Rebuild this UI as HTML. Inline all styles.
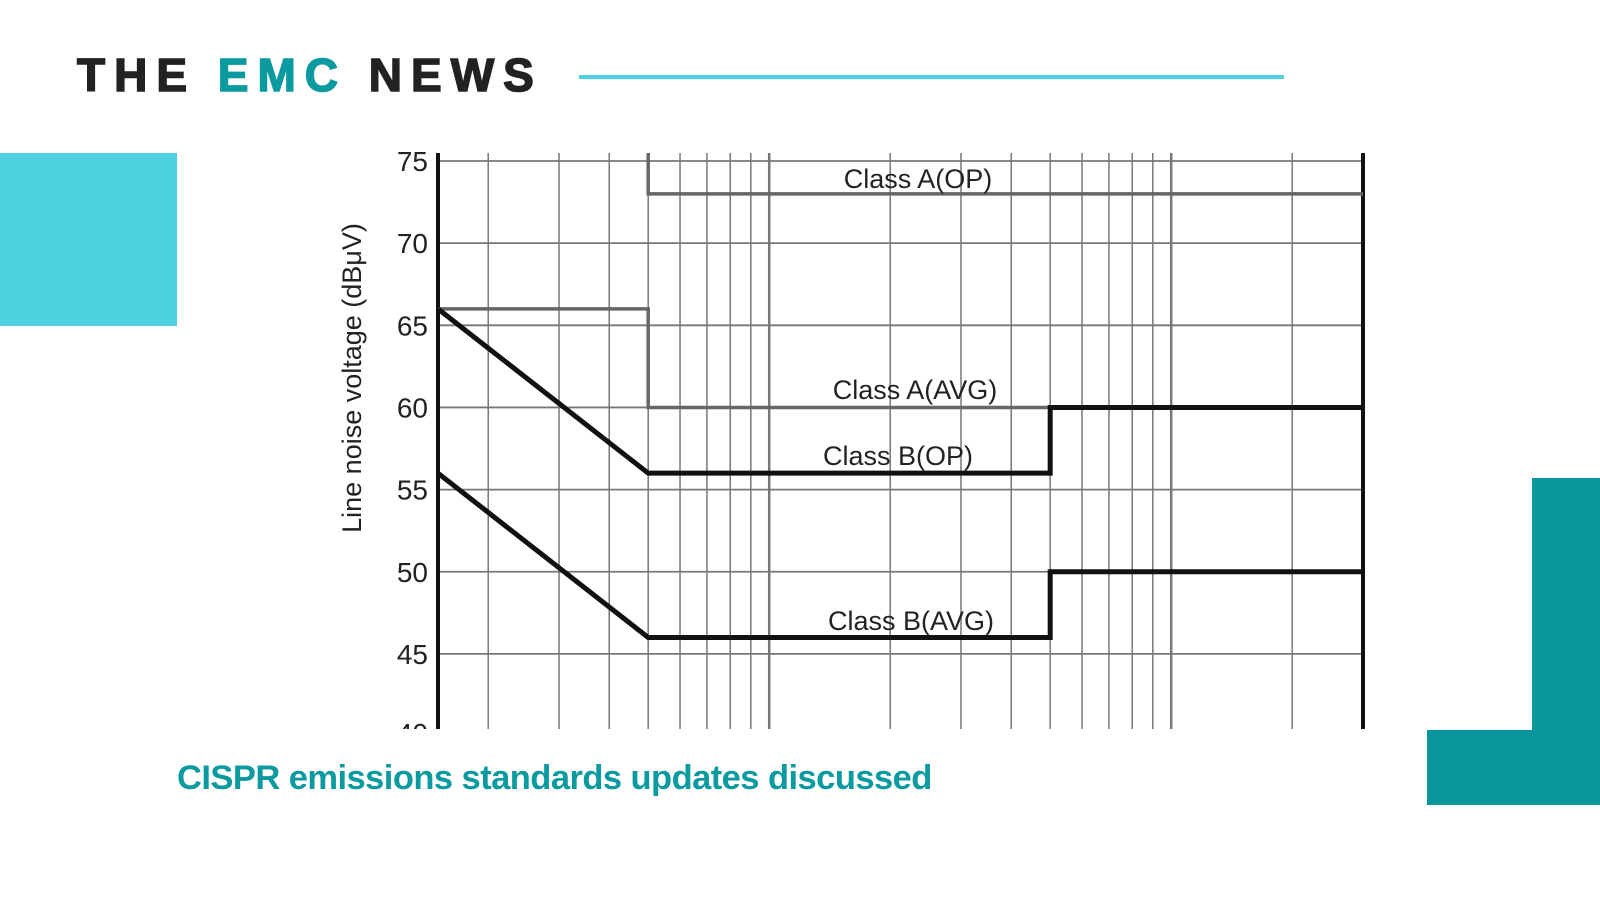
<!DOCTYPE html>
<html><head><meta charset="utf-8"><style>
html,body{margin:0;padding:0;background:#fff;}
body{width:1600px;height:900px;position:relative;overflow:hidden;font-family:"Liberation Sans",sans-serif;}
.hdr{position:absolute;left:77px;top:48px;font-size:46px;font-weight:bold;letter-spacing:9px;color:#222;white-space:nowrap;-webkit-text-stroke:1.5px #222;}
.hdr span{color:#0b9aa0;-webkit-text-stroke:1.5px #0b9aa0;}
.line{position:absolute;left:579px;top:75px;width:705px;height:4px;background:#4fd0df;}
.cyan{position:absolute;left:0;top:153px;width:177px;height:173px;background:#4dd0e0;}
.t1{position:absolute;left:1532px;top:478px;width:68px;height:327px;background:#08959b;}
.t2{position:absolute;left:1427px;top:730px;width:173px;height:75px;background:#08959b;}
.cap{position:absolute;left:177px;top:759px;font-size:34.5px;font-weight:bold;color:#0b9aa0;white-space:nowrap;letter-spacing:-0.55px;}
svg{position:absolute;left:0;top:0;}
</style></head><body>
<div class="hdr">THE <span>EMC</span> NEWS</div>
<div class="line"></div>
<div class="cyan"></div>
<div class="t1"></div><div class="t2"></div>
<svg width="1600" height="900" id="s"></svg>
<div class="cap">CISPR emissions standards updates discussed</div>
<script>
var s=document.getElementById('s');var L=438,R=1363,T=153,B=729,D=(R-L)/Math.log10(200);
function X(f){return L+D*Math.log10(f/0.15);}
function Y(v){return 161+(75-v)*16.43;}
var h='<defs><clipPath id="c"><rect x="0" y="0" width="1600" height="729"/></clipPath></defs>';
var fs=[0.2,0.3,0.4,0.5,0.6,0.7,0.8,0.9,1,2,3,4,5,6,7,8,9,10,20];
fs.forEach(function(f){var x=X(f);var w=(f==1||f==10)?2.5:1.5;h+='<line x1="'+x+'" y1="'+T+'" x2="'+x+'" y2="'+B+'" stroke="#777" stroke-width="'+w+'"/>';});
for(var v=45;v<=75;v+=5){var y=Y(v);h+='<line x1="'+L+'" y1="'+y+'" x2="'+R+'" y2="'+y+'" stroke="#777" stroke-width="1.8"/>';
h+='<text x="428" y="'+(y+10)+'" font-size="28" text-anchor="end" fill="#222" font-family="Liberation Sans">'+v+'</text>';}
h+='<text clip-path="url(#c)" x="428" y="743" font-size="28" text-anchor="end" fill="#222" font-family="Liberation Sans">40</text>';
h+='<line x1="'+L+'" y1="'+T+'" x2="'+L+'" y2="'+B+'" stroke="#111" stroke-width="4"/>';
h+='<line x1="'+R+'" y1="'+T+'" x2="'+R+'" y2="'+B+'" stroke="#111" stroke-width="4"/>';
var x5=X(0.5),x50=X(5);
h+='<polyline fill="none" stroke="#666" stroke-width="3.5" points="'+L+','+Y(66)+' '+x5+','+Y(66)+' '+x5+','+Y(60)+' '+x50+','+Y(60)+'"/>';
h+='<polyline fill="none" stroke="#666" stroke-width="3.5" points="'+x5+','+T+' '+x5+','+Y(73)+' '+R+','+Y(73)+'"/>';
h+='<polyline fill="none" stroke="#111" stroke-width="5" points="'+L+','+Y(66)+' '+x5+','+Y(56)+' '+x50+','+Y(56)+' '+x50+','+Y(60)+' '+R+','+Y(60)+'"/>';
h+='<polyline fill="none" stroke="#111" stroke-width="5" points="'+L+','+Y(56)+' '+x5+','+Y(46)+' '+x50+','+Y(46)+' '+x50+','+Y(50)+' '+R+','+Y(50)+'"/>';
function t(x,y,s){h+='<text x="'+x+'" y="'+y+'" font-size="27" text-anchor="middle" fill="#222" font-family="Liberation Sans">'+s+'</text>';}
t(918,188,'Class A(OP)');t(915,399,'Class A(AVG)');t(898,465,'Class B(OP)');t(911,630,'Class B(AVG)');
h+='<text transform="translate(361,378) rotate(-90)" font-size="27" text-anchor="middle" fill="#222" font-family="Liberation Sans">Line noise voltage (dBμV)</text>';
s.innerHTML=h;
</script>
</body></html>
